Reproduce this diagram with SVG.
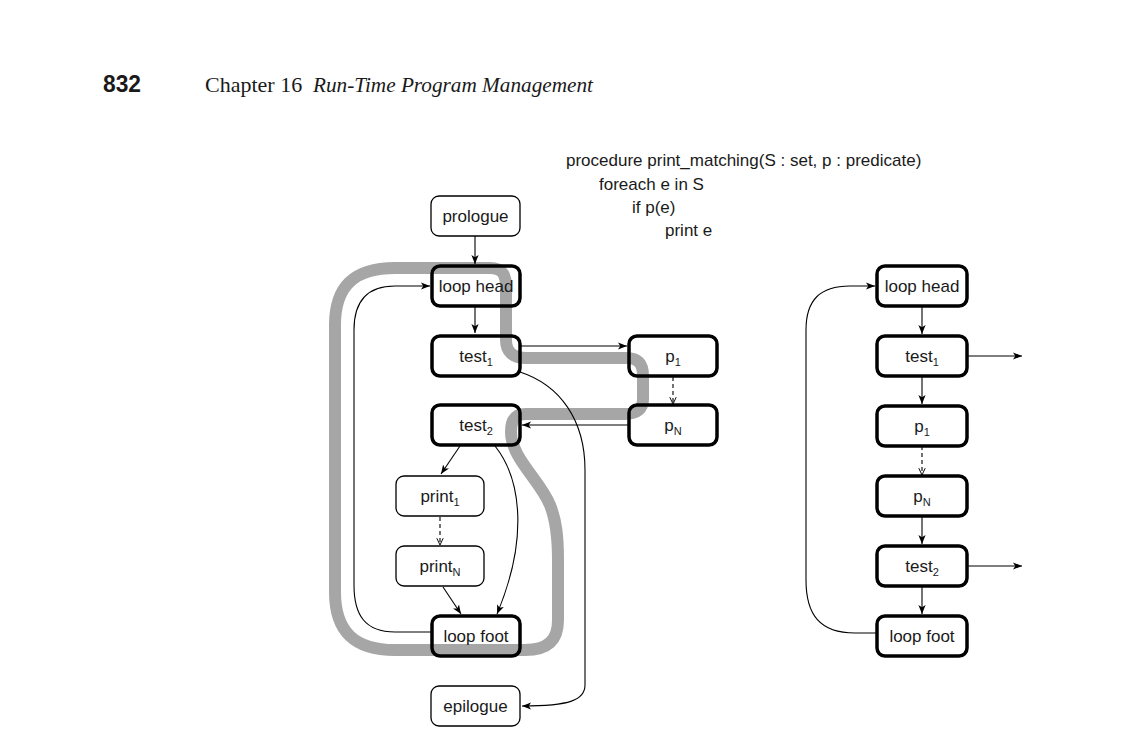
<svg xmlns="http://www.w3.org/2000/svg" width="1128" height="740" viewBox="0 0 1128 740">
<style>
.n{font-family:"Liberation Sans",Arial,sans-serif;font-size:17px;fill:#1a1a1a;text-anchor:middle}
.s{font-size:11px}
.code{font-family:"Liberation Sans",Arial,sans-serif;font-size:17px;fill:#1a1a1a}
.thin{fill:none;stroke:#000;stroke-width:1.3}
.thick{fill:none;stroke:#000;stroke-width:3.5}
.e{fill:none;stroke:#000;stroke-width:1.1}
.d{fill:none;stroke:#000;stroke-width:1.1;stroke-dasharray:4 3}
</style>
<defs>
<marker id="ah" viewBox="0 0 10 10" refX="10" refY="5" markerWidth="9" markerHeight="9" markerUnits="userSpaceOnUse" orient="auto">
<path d="M0,1 L10,5 L0,9 L2.5,5 Z" fill="#000"/>
</marker>
<marker id="oh" viewBox="0 0 10 10" refX="9.5" refY="5" markerWidth="8" markerHeight="8" markerUnits="userSpaceOnUse" orient="auto">
<path d="M1,1 L9.5,5 L1,9" fill="none" stroke="#000" stroke-width="1.2"/>
</marker>
</defs>
<rect width="1128" height="740" fill="#fff"/>
<g id="header">
<text x="103" y="92" font-family="'Liberation Sans',Arial,sans-serif" font-weight="bold" font-size="24" textLength="38" lengthAdjust="spacingAndGlyphs" fill="#1a1a1a">832</text>
<text x="205" y="92" font-family="'Liberation Serif',serif" font-size="22" fill="#1a1a1a">Chapter 16</text>
<text x="313" y="92" font-family="'Liberation Serif',serif" font-size="22" font-style="italic" textLength="280" lengthAdjust="spacingAndGlyphs" fill="#1a1a1a">Run-Time Program Management</text>
</g>
<g id="code">
<text class="code" x="566" y="166">procedure print_matching(S : set, p : predicate)</text>
<text class="code" x="599" y="190">foreach e in S</text>
<text class="code" x="632" y="213">if p(e)</text>
<text class="code" x="665" y="236">print e</text>
</g>
<g id="highlight">
<path d="M395,268 L490,268 C503,268 506,275 506,288 L506,340 C506,352 513,358 526,358 L626,358 C639,358 643,364 643,376 L643,399 C643,409 637,414 625,414 L526,414 C515,414 511,420 511,432 C511,458 540,480 550,505 C556,520 558,535 558,560 L558,620 C558,640 548,650 525,650 L395,650 C355,650 335,632 335,592 L335,325 C335,285 355,268 395,268 Z" fill="none" stroke="#a6a6a6" stroke-width="12" stroke-linejoin="round"/>
</g>
<g id="connectors">
<path class="e" d="M475,236 L475,264" marker-end="url(#ah)"/>
<path class="e" d="M475,306 L475,333" marker-end="url(#ah)"/>
<path class="e" d="M521,346 L627,346" marker-end="url(#ah)"/>
<path class="d" d="M673,377 L673,404" marker-end="url(#oh)"/>
<path class="e" d="M629,425 L522,425" marker-end="url(#ah)"/>
<path class="e" d="M520,372 C560,385 585,420 585,470 L585,685 C585,700 570,706 522,706" marker-end="url(#ah)"/>
<path class="e" d="M460,446 L441,474" marker-end="url(#ah)"/>
<path class="d" d="M440,517 L440,545" marker-end="url(#oh)"/>
<path class="e" d="M443,587 L461,614" marker-end="url(#ah)"/>
<path class="e" d="M495,446 C522,480 528,540 497,614" marker-end="url(#ah)"/>
<path class="e" d="M432,632 L395,632 C365,632 354,615 354,585 L354,330 C354,300 368,286 395,286 L430,286" marker-end="url(#ah)"/>
<path class="e" d="M922,306 L922,334" marker-end="url(#ah)"/>
<path class="e" d="M922,376 L922,404" marker-end="url(#ah)"/>
<path class="d" d="M922,446 L922,475" marker-end="url(#oh)"/>
<path class="e" d="M922,516 L922,544" marker-end="url(#ah)"/>
<path class="e" d="M922,586 L922,614" marker-end="url(#ah)"/>
<path class="e" d="M967,356 L1022,356" marker-end="url(#ah)"/>
<path class="e" d="M967,566 L1022,566" marker-end="url(#ah)"/>
<path class="e" d="M877,633 L855,633 C820,633 806,615 806,580 L806,330 C806,300 820,286 850,286 L875,286" marker-end="url(#ah)"/>
</g>
<g id="prologue"><rect class="thin" x="431" y="196" width="89" height="40" rx="8"/><text class="n" x="475.5" y="222">prologue</text></g>
<g id="loophead"><rect class="thick" x="432" y="266" width="88" height="40" rx="8"/><text class="n" x="476" y="292">loop head</text></g>
<g id="test1"><rect class="thick" x="432" y="336" width="88" height="40" rx="8"/><text class="n" x="476" y="362">test<tspan class="s" dy="4">1</tspan></text></g>
<g id="test2"><rect class="thick" x="432" y="405" width="88" height="40" rx="8"/><text class="n" x="476" y="431">test<tspan class="s" dy="4">2</tspan></text></g>
<g id="print1"><rect class="thin" x="396" y="476" width="88" height="40" rx="8"/><text class="n" x="440" y="502">print<tspan class="s" dy="4">1</tspan></text></g>
<g id="printN"><rect class="thin" x="396" y="546" width="88" height="40" rx="8"/><text class="n" x="440" y="572">print<tspan class="s" dy="4">N</tspan></text></g>
<g id="loopfoot"><rect class="thick" x="432" y="616" width="88" height="40" rx="8"/><text class="n" x="476" y="642">loop foot</text></g>
<g id="epilogue"><rect class="thin" x="431" y="686" width="89" height="40" rx="8"/><text class="n" x="475.5" y="712">epilogue</text></g>
<g id="p1"><rect class="thick" x="629" y="336" width="88" height="40" rx="8"/><text class="n" x="673" y="362">p<tspan class="s" dy="4">1</tspan></text></g>
<g id="pN"><rect class="thick" x="629" y="405" width="88" height="40" rx="8"/><text class="n" x="673" y="431">p<tspan class="s" dy="4">N</tspan></text></g>
<g id="r_loophead"><rect class="thick" x="877" y="266" width="90" height="40" rx="8"/><text class="n" x="922" y="292">loop head</text></g>
<g id="r_test1"><rect class="thick" x="877" y="336" width="90" height="40" rx="8"/><text class="n" x="922" y="362">test<tspan class="s" dy="4">1</tspan></text></g>
<g id="r_p1"><rect class="thick" x="877" y="406" width="90" height="40" rx="8"/><text class="n" x="922" y="432">p<tspan class="s" dy="4">1</tspan></text></g>
<g id="r_pN"><rect class="thick" x="877" y="476" width="90" height="40" rx="8"/><text class="n" x="922" y="502">p<tspan class="s" dy="4">N</tspan></text></g>
<g id="r_test2"><rect class="thick" x="877" y="546" width="90" height="40" rx="8"/><text class="n" x="922" y="572">test<tspan class="s" dy="4">2</tspan></text></g>
<g id="r_loopfoot"><rect class="thick" x="877" y="616" width="90" height="40" rx="8"/><text class="n" x="922" y="642">loop foot</text></g>
</svg>
